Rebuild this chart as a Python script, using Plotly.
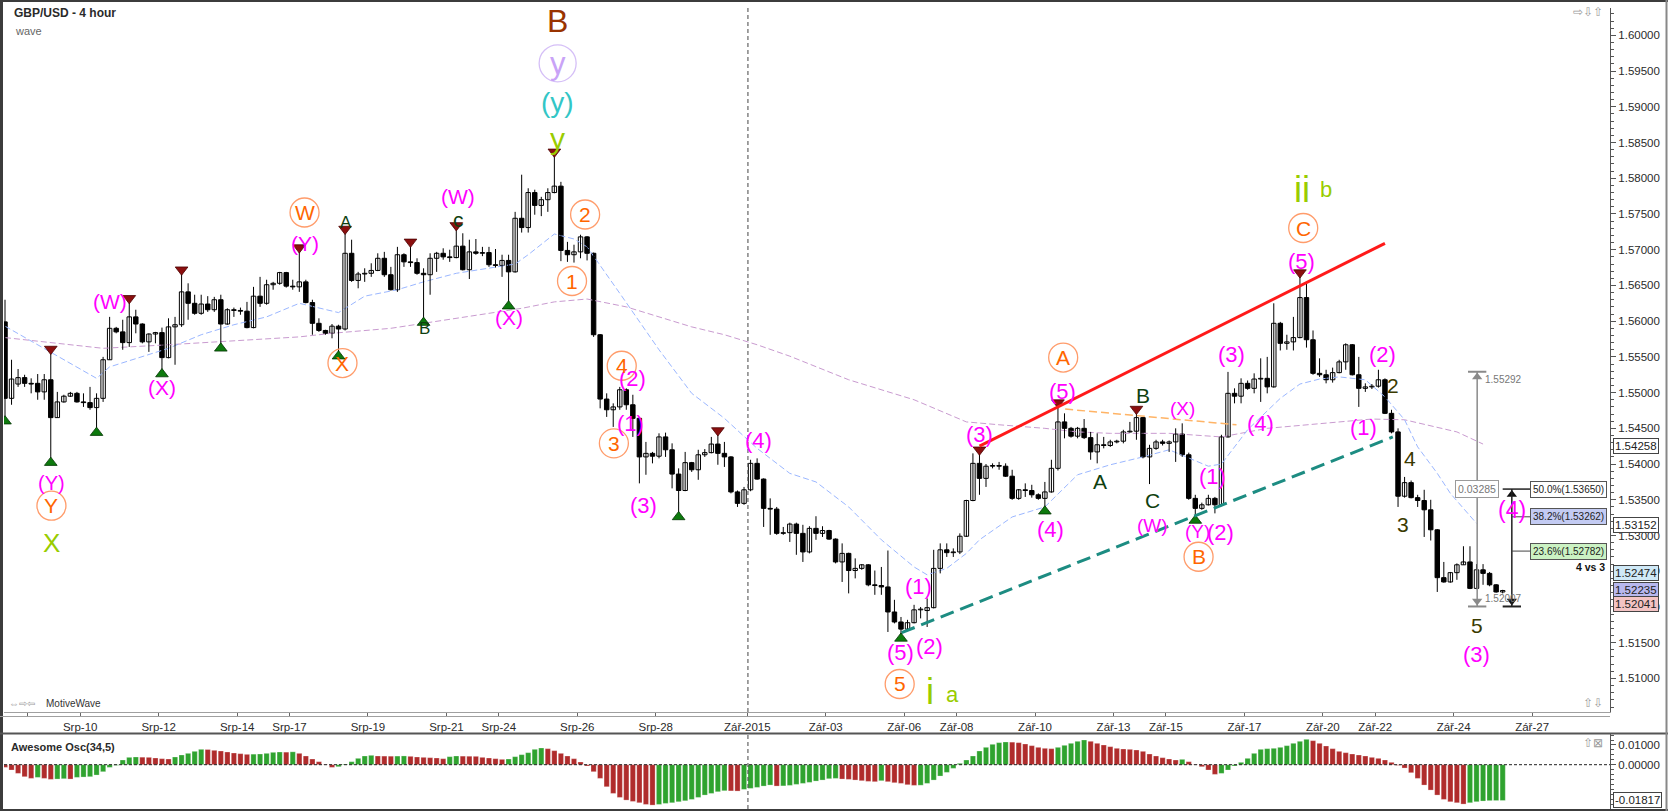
import plotly.graph_objects as go

# ---------------- data ----------------
bar_open = [
1.5599,1.5492,1.5512,1.5521,1.5513,1.5513,1.5501,1.5518,1.5465,1.5487,
1.5495,1.5499,1.5487,1.5486,1.5479,1.5492,1.5546,1.5590,1.5585,1.5570,
1.5606,1.5596,1.5571,1.5582,1.5584,1.5549,1.5592,1.5595,1.5641,1.5625,
1.5611,1.5624,1.5616,1.5630,1.5596,1.5616,1.5615,1.5614,1.5591,1.5635,
1.5625,1.5651,1.5653,1.5668,1.5649,1.5648,1.5655,1.5626,1.5597,1.5587,
1.5583,1.5593,1.5589,1.5695,1.5657,1.5666,1.5667,1.5671,1.5688,1.5665,
1.5644,1.5693,1.5683,1.5682,1.5667,1.5665,1.5688,1.5695,1.5690,1.5689,
1.5705,1.5672,1.5697,1.5695,1.5696,1.5679,1.5678,1.5685,1.5669,1.5744,
1.5731,1.5780,1.5762,1.5770,1.5780,1.5789,1.5699,1.5693,1.5697,1.5718,
1.5695,1.5581,1.5491,1.5476,1.5480,1.5504,1.5483,1.5464,1.5410,1.5415,
1.5411,1.5438,1.5420,1.5386,1.5363,1.5402,1.5392,1.5413,1.5416,1.5428,
1.5415,1.5410,1.5361,1.5345,1.5364,1.5401,1.5379,1.5338,1.5337,1.5303,
1.5304,1.5316,1.5303,1.5277,1.5310,1.5303,1.5307,1.5295,1.5263,1.5275,
1.5251,1.5254,1.5259,1.5231,1.5230,1.5228,1.5193,1.5179,1.5169,1.5178,
1.5196,1.5195,1.5199,1.5254,1.5280,1.5276,1.5277,1.5299,1.5349,1.5401,
1.5380,1.5397,1.5398,1.5397,1.5383,1.5352,1.5364,1.5363,1.5357,1.5352,
1.5361,1.5394,1.5459,1.5450,1.5439,1.5450,1.5437,1.5417,1.5427,1.5426,
1.5431,1.5432,1.5445,1.5446,1.5465,1.5410,1.5422,1.5431,1.5429,1.5431,
1.5442,1.5413,1.5352,1.5338,1.5343,1.5352,1.5343,1.5438,1.5499,1.5495,
1.5513,1.5506,1.5519,1.5520,1.5508,1.5597,1.5569,1.5571,1.5577,1.5633,
1.5574,1.5527,1.5525,1.5518,1.5528,1.5543,1.5567,1.5525,1.5506,1.5508,
1.5509,1.5518,1.5471,1.5445,1.5355,1.5374,1.5353,1.5349,1.5336,1.5308,
1.5241,1.5235,1.5248,1.5259,1.5263,1.5226,1.5252,1.5247,1.5231,1.5221]

bar_close = [
1.5492,1.5519,1.5521,1.5513,1.5512,1.5501,1.5518,1.5465,1.5487,1.5495,
1.5499,1.5487,1.5486,1.5479,1.5492,1.5546,1.5590,1.5585,1.5570,1.5606,
1.5596,1.5571,1.5582,1.5584,1.5549,1.5592,1.5595,1.5641,1.5625,1.5611,
1.5624,1.5616,1.5630,1.5596,1.5616,1.5615,1.5614,1.5591,1.5635,1.5625,
1.5651,1.5653,1.5668,1.5649,1.5648,1.5655,1.5626,1.5597,1.5587,1.5583,
1.5593,1.5589,1.5695,1.5657,1.5666,1.5667,1.5671,1.5688,1.5665,1.5644,
1.5693,1.5683,1.5682,1.5667,1.5665,1.5688,1.5695,1.5690,1.5689,1.5705,
1.5672,1.5697,1.5695,1.5696,1.5679,1.5678,1.5685,1.5669,1.5744,1.5731,
1.5780,1.5762,1.5770,1.5780,1.5789,1.5699,1.5693,1.5697,1.5718,1.5695,
1.5581,1.5491,1.5476,1.5480,1.5504,1.5483,1.5464,1.5410,1.5415,1.5411,
1.5438,1.5420,1.5386,1.5363,1.5402,1.5392,1.5413,1.5416,1.5428,1.5415,
1.5410,1.5361,1.5345,1.5364,1.5401,1.5379,1.5338,1.5337,1.5303,1.5304,
1.5316,1.5303,1.5277,1.5310,1.5303,1.5307,1.5295,1.5263,1.5275,1.5251,
1.5254,1.5259,1.5231,1.5230,1.5228,1.5193,1.5179,1.5169,1.5178,1.5196,
1.5197,1.5199,1.5254,1.5280,1.5276,1.5277,1.5299,1.5349,1.5401,1.5380,
1.5397,1.5398,1.5397,1.5383,1.5352,1.5364,1.5363,1.5357,1.5352,1.5361,
1.5394,1.5459,1.5450,1.5439,1.5450,1.5437,1.5417,1.5427,1.5426,1.5431,
1.5432,1.5445,1.5446,1.5465,1.5410,1.5422,1.5431,1.5429,1.5431,1.5442,
1.5413,1.5352,1.5338,1.5343,1.5352,1.5343,1.5438,1.5499,1.5495,1.5513,
1.5506,1.5519,1.5520,1.5508,1.5597,1.5569,1.5571,1.5577,1.5633,1.5574,
1.5527,1.5525,1.5518,1.5528,1.5543,1.5567,1.5525,1.5506,1.5508,1.5509,
1.5518,1.5471,1.5445,1.5355,1.5374,1.5353,1.5349,1.5336,1.5308,1.5241,
1.5235,1.5248,1.5259,1.5263,1.5226,1.5252,1.5247,1.5231,1.5221,1.5223]

bar_high = [
1.5630,1.5546,1.5533,1.5525,1.5520,1.5526,1.5526,1.5555,1.5501,1.5497,
1.5501,1.5501,1.5499,1.5508,1.5499,1.5550,1.5606,1.5592,1.5602,1.5626,
1.5616,1.5597,1.5583,1.5585,1.5591,1.5604,1.5606,1.5666,1.5653,1.5637,
1.5637,1.5635,1.5634,1.5637,1.5618,1.5619,1.5619,1.5627,1.5648,1.5662,
1.5658,1.5655,1.5669,1.5669,1.5658,1.5697,1.5658,1.5630,1.5604,1.5588,
1.5596,1.5595,1.5723,1.5714,1.5669,1.5674,1.5681,1.5695,1.5697,1.5676,
1.5704,1.5695,1.5705,1.5688,1.5674,1.5695,1.5697,1.5702,1.5700,1.5728,
1.5723,1.5714,1.5715,1.5704,1.5704,1.5701,1.5693,1.5693,1.5753,1.5805,
1.5786,1.5784,1.5774,1.5786,1.5831,1.5795,1.5711,1.5707,1.5721,1.5719,
1.5696,1.5582,1.5499,1.5485,1.5508,1.5506,1.5497,1.5466,1.5431,1.5417,
1.5443,1.5444,1.5429,1.5394,1.5417,1.5403,1.5420,1.5421,1.5438,1.5441,
1.5431,1.5411,1.5363,1.5368,1.5406,1.5408,1.5380,1.5352,1.5340,1.5312,
1.5318,1.5318,1.5315,1.5313,1.5327,1.5313,1.5308,1.5296,1.5289,1.5276,
1.5268,1.5260,1.5260,1.5251,1.5256,1.5279,1.5210,1.5186,1.5182,1.5203,
1.5200,1.5212,1.5280,1.5289,1.5289,1.5282,1.5303,1.5350,1.5415,1.5414,
1.5400,1.5401,1.5403,1.5401,1.5392,1.5365,1.5373,1.5371,1.5359,1.5375,
1.5406,1.5480,1.5471,1.5452,1.5452,1.5463,1.5445,1.5443,1.5438,1.5434,
1.5434,1.5448,1.5459,1.5471,1.5466,1.5427,1.5434,1.5434,1.5433,1.5450,
1.5457,1.5416,1.5357,1.5346,1.5357,1.5354,1.5441,1.5529,1.5506,1.5520,
1.5517,1.5527,1.5548,1.5550,1.5625,1.5599,1.5581,1.5606,1.5662,1.5652,
1.5587,1.5548,1.5532,1.5535,1.5546,1.5569,1.5568,1.5550,1.5513,1.5512,
1.5532,1.5520,1.5476,1.5450,1.5382,1.5377,1.5357,1.5364,1.5350,1.5309,
1.5263,1.5249,1.5261,1.5285,1.5285,1.5260,1.5260,1.5249,1.5232,1.5224]

bar_low = [
1.5466,1.5483,1.5508,1.5508,1.5499,1.5490,1.5490,1.5408,1.5465,1.5486,
1.5494,1.5486,1.5480,1.5476,1.5450,1.5487,1.5546,1.5583,1.5560,1.5564,
1.5583,1.5569,1.5557,1.5569,1.5532,1.5548,1.5539,1.5592,1.5602,1.5609,
1.5609,1.5613,1.5613,1.5568,1.5595,1.5606,1.5609,1.5590,1.5590,1.5620,
1.5623,1.5644,1.5651,1.5647,1.5644,1.5641,1.5625,1.5581,1.5585,1.5581,
1.5576,1.5557,1.5587,1.5655,1.5646,1.5655,1.5662,1.5670,1.5662,1.5643,
1.5641,1.5676,1.5676,1.5665,1.5604,1.5637,1.5669,1.5686,1.5683,1.5688,
1.5671,1.5659,1.5693,1.5691,1.5676,1.5675,1.5662,1.5627,1.5668,1.5724,
1.5724,1.5749,1.5747,1.5753,1.5779,1.5684,1.5683,1.5682,1.5688,1.5685,
1.5578,1.5478,1.5466,1.5452,1.5476,1.5476,1.5438,1.5373,1.5385,1.5401,
1.5408,1.5410,1.5366,1.5332,1.5362,1.5389,1.5378,1.5410,1.5415,1.5399,
1.5396,1.5359,1.5340,1.5343,1.5362,1.5378,1.5312,1.5301,1.5301,1.5301,
1.5291,1.5273,1.5263,1.5275,1.5294,1.5298,1.5294,1.5261,1.5235,1.5219,
1.5240,1.5252,1.5229,1.5217,1.5217,1.5165,1.5177,1.5162,1.5168,1.5177,
1.5184,1.5172,1.5198,1.5247,1.5270,1.5270,1.5274,1.5298,1.5348,1.5357,
1.5368,1.5394,1.5392,1.5382,1.5350,1.5350,1.5354,1.5353,1.5350,1.5340,
1.5360,1.5391,1.5436,1.5437,1.5436,1.5435,1.5406,1.5401,1.5422,1.5424,
1.5429,1.5429,1.5444,1.5434,1.5408,1.5372,1.5420,1.5426,1.5417,1.5403,
1.5410,1.5350,1.5327,1.5336,1.5342,1.5331,1.5341,1.5437,1.5485,1.5485,
1.5504,1.5499,1.5487,1.5499,1.5507,1.5559,1.5560,1.5559,1.5576,1.5563,
1.5525,1.5522,1.5513,1.5514,1.5527,1.5532,1.5524,1.5480,1.5501,1.5505,
1.5507,1.5470,1.5443,1.5340,1.5353,1.5352,1.5340,1.5298,1.5293,1.5221,
1.5234,1.5234,1.5238,1.5259,1.5225,1.5225,1.5231,1.5229,1.5220,1.5219]

ao_values = [
-0.00136,-0.00271,-0.00441,-0.00610,-0.00695,-0.00644,-0.00695,-0.00746,-0.00729,-0.00712,
-0.00729,-0.00644,-0.00627,-0.00610,-0.00525,-0.00356,-0.00136,-0.00034,0.00237,0.00373,
0.00390,0.00381,0.00373,0.00339,0.00305,0.00288,0.00390,0.00492,0.00576,0.00678,
0.00780,0.00771,0.00729,0.00695,0.00644,0.00593,0.00559,0.00525,0.00534,0.00542,
0.00576,0.00627,0.00644,0.00636,0.00653,0.00576,0.00441,0.00288,0.00153,0.00017,
-0.00136,-0.00102,0.00034,0.00153,0.00322,0.00441,0.00475,0.00441,0.00436,0.00431,
0.00437,0.00444,0.00424,0.00390,0.00373,0.00356,0.00339,0.00305,0.00407,0.00441,
0.00434,0.00429,0.00424,0.00373,0.00339,0.00305,0.00271,0.00288,0.00407,0.00509,
0.00610,0.00780,0.00848,0.00814,0.00712,0.00576,0.00441,0.00305,0.00136,-0.00068,
-0.00356,-0.00695,-0.01119,-0.01458,-0.01661,-0.01797,-0.01865,-0.01932,-0.02017,-0.02051,
-0.02017,-0.01966,-0.01932,-0.01881,-0.01831,-0.01763,-0.01661,-0.01542,-0.01458,-0.01373,
-0.01322,-0.01331,-0.01339,-0.01254,-0.01203,-0.01153,-0.01085,-0.01034,-0.01085,-0.01076,
-0.01051,-0.01000,-0.00949,-0.00898,-0.00831,-0.00780,-0.00712,-0.00695,-0.00729,-0.00746,
-0.00780,-0.00814,-0.00848,-0.00864,-0.00814,-0.00864,-0.00915,-0.00949,-0.01017,-0.01051,
-0.01042,-0.00949,-0.00780,-0.00576,-0.00390,-0.00186,0.00068,0.00237,0.00441,0.00695,
0.00881,0.01034,0.01119,0.01153,0.01144,0.01119,0.01051,0.00966,0.00881,0.00831,
0.00814,0.00881,0.00983,0.01085,0.01187,0.01254,0.01187,0.01085,0.01000,0.00915,
0.00831,0.00797,0.00780,0.00746,0.00678,0.00542,0.00441,0.00356,0.00288,0.00237,
0.00271,0.00153,-0.00017,-0.00102,-0.00271,-0.00492,-0.00441,-0.00271,-0.00068,0.00119,
0.00322,0.00576,0.00780,0.00814,0.00831,0.00881,0.00966,0.01085,0.01187,0.01288,
0.01220,0.01085,0.00949,0.00814,0.00678,0.00610,0.00542,0.00492,0.00441,0.00373,
0.00322,0.00237,0.00119,-0.00034,-0.00170,-0.00407,-0.00695,-0.01034,-0.01288,-0.01542,
-0.01763,-0.01881,-0.01932,-0.02000,-0.01932,-0.01880,-0.01845,-0.01825,-0.01820,-0.01817]

date_tick_pos = [3.5, 11.5, 23.5, 35.5, 43.5, 55.5, 67.5, 75.5, 87.5, 99.5, 113.5,
                 125.5, 137.5, 145.5, 157.5, 169.5, 177.5, 189.5, 201.5, 209.5, 221.5, 233.5]
date_tick_text = ["", "Srp-10", "Srp-12", "Srp-14", "Srp-17", "Srp-19", "Srp-21", "Srp-24",
                  "Srp-26", "Srp-28", "Zář-2015", "Zář-03", "Zář-06", "Zář-08", "Zář-10",
                  "Zář-13", "Zář-15", "Zář-17", "Zář-20", "Zář-22", "Zář-24", "Zář-27"]

fast_ma_idx = [0,14,16,25,30,35,40,45,51,55,60,64,69,74,78,80,84,87,89,94,100,105,110,115,120,
               124,129,134,139,141,144,147,149,154,159,164,169,174,178,184,186,190,195,198,201,
               204,208,211,214,216,219,221,225]
fast_ma_val = [1.5593,1.5520,1.5536,1.5562,1.5581,1.5595,1.5606,1.5625,1.5612,1.5635,
               1.5644,1.5655,1.5667,1.5674,1.5680,1.5693,1.5722,1.5715,1.5704,1.5639,
               1.5560,1.5499,1.5464,1.5422,1.5387,1.5375,1.5340,1.5294,1.5256,1.5245,
               1.5254,1.5275,1.5294,1.5326,1.5340,1.5385,1.5399,1.5410,1.5420,1.5397,
               1.5400,1.5448,1.5492,1.5512,1.5519,1.5522,1.5518,1.5494,1.5462,1.5424,
               1.5387,1.5359,1.5317]
slow_ma_idx = [0,15,25,35,45,50,59,64,74,79,84,89,95,100,105,110,115,120,129,139,147,152,159,
               164,169,178,186,193,201,209,214,222,226]
slow_ma_val = [1.5577,1.5562,1.5567,1.5573,1.5578,1.5583,1.5590,1.5597,1.5611,1.5618,1.5627,
               1.5631,1.5620,1.5606,1.5592,1.5581,1.5567,1.5551,1.5518,1.5490,1.5459,1.5455,
               1.5450,1.5445,1.5443,1.5443,1.5438,1.5450,1.5457,1.5463,1.5462,1.5445,1.5428]

swing_high_idx = [7, 19, 27, 45, 52, 62, 69, 84, 109, 149, 161, 173, 198]
swing_low_idx = [0, 7, 14, 24, 33, 51, 64, 77, 103, 137, 159, 182]

upper_line_x = [149, 211]
upper_line_y = [1.5425, 1.5709]
lower_line_x = [137.1, 212.2]
lower_line_y = [1.5164, 1.5438]
b_line_x = [162.1, 188.3]
b_line_y = [1.5477, 1.5455]

measure_high = 1.55292
measure_low = 1.52007
measure_range_text = "0.03285"
fib_levels = [("50.0%(1.53650)", 1.53650, "white"),
              ("38.2%(1.53262)", 1.53262, "#c3cbf3"),
              ("23.6%(1.52782)", 1.52782, "#cbf2c3")]

price_tags = [("1.54258", 1.54258, "white"), ("1.53152", 1.53152, "white"),
              ("1.52474", 1.52474, "#cfe9f7"), ("1.52235", 1.52235, "#b8b8ee"),
              ("1.52041", 1.52041, "#f3c3c3")]
ao_tag = ("-0.01817", -0.01817)

magenta_labels = [
    ("(W)", 16.1, 1.56282, 21), ("(X)", 24.0, 1.55078, 21), ("(Y)", 7.1, 1.53739, 20),
    ("(Y)", 45.8, 1.57094, 21), ("(W)", 69.3, 1.57738, 21), ("(X)", 77.0, 1.56058, 21),
    ("(2)", 96.0, 1.55200, 22), ("(1)", 95.6, 1.54570, 22), ("(3)", 97.6, 1.53417, 22),
    ("(4)", 115.2, 1.54332, 22), ("(1)", 139.7, 1.52293, 22), ("(5)", 136.9, 1.51364, 22),
    ("(2)", 141.3, 1.51444, 22), ("(3)", 149.0, 1.54407, 22), ("(5)", 161.7, 1.55020, 22),
    ("(4)", 159.9, 1.53091, 22), ("(W)", 175.5, 1.53137, 19), ("(X)", 180.0, 1.54780, 19),
    ("(Y)", 182.4, 1.53053, 19), ("(2)", 185.8, 1.53045, 22), ("(1)", 184.7, 1.53823, 22),
    ("(4)", 192.0, 1.54561, 22), ("(3)", 187.6, 1.55540, 22), ("(5)", 198.3, 1.56842, 22),
    ("(2)", 210.6, 1.55540, 22), ("(1)", 207.7, 1.54514, 22), ("(3)", 225.0, 1.51328, 22),
    ("(4)", 230.4, 1.53357, 23)]
orange_circled = [
    ("W", 45.8, 1.57521), ("X", 51.6, 1.55414), ("Y", 7.1, 1.53417), ("2", 88.7, 1.57493),
    ("1", 86.7, 1.56562), ("4", 94.3, 1.55376), ("3", 93.1, 1.54290), ("5", 136.8, 1.50922),
    ("A", 161.8, 1.55491), ("B", 182.5, 1.52703), ("C", 198.5, 1.57304)]
dark_green_labels = [("A", 52.1, 1.57374, 17), ("B", 64.1, 1.55904, 17), ("c", 69.3, 1.57416, 21),
                     ("A", 167.4, 1.53759, 21), ("B", 174.0, 1.54959, 21), ("C", 175.5, 1.53490, 21)]
olive_labels = [("2", 212.2, 1.55106), ("4", 214.8, 1.54071), ("3", 213.8, 1.53161), ("5", 225.0, 1.51747)]
lime_labels = [("X", 7.1, 1.52891, 26), ("y", 84.5, 1.58563, 30), ("i", 141.5, 1.50810, 36),
               ("a", 144.8, 1.50768, 22), ("ii", 198.3, 1.57836, 36), ("b", 202.0, 1.57843, 22)]
top_labels = [("B", 84.5, 1.60204, "#993300", 32), ("(y)", 84.5, 1.59060, "#33c6c6", 28)]
lavender_circled = ("y", 84.5, 1.59609)

# ---------------- layout geometry ----------------
W, H = 1668, 811
ML, MR, MT, MB = 4, 58, 8, 2
PW, PH = W - ML - MR, H - MT - MB
def pyp(py):  # pixel row -> paper y
    return (H - MB - py) / PH
def pxp(px):  # pixel column -> paper x
    return (px - ML) / PW

FONT = "Liberation Sans"
X_RANGE = [-0.153, 245.41]
Y_RANGE = [1.50530, 1.60383]
AO_RANGE = [-0.02249, 0.01558]
MAIN_DOM = [pyp(712), 1.0]
OSC_DOM = [0.0, pyp(734)]

fig = go.Figure()

# moving averages
fig.add_trace(go.Scatter(x=slow_ma_idx, y=slow_ma_val, mode="lines",
                         line=dict(color="#c99bd0", width=1, dash="6px,3px"), hoverinfo="skip"))
fig.add_trace(go.Scatter(x=fast_ma_idx, y=fast_ma_val, mode="lines",
                         line=dict(color="#9bb7ff", width=1, dash="6px,3px"), hoverinfo="skip"))

# candles: wicks
n = len(bar_open)
idx = list(range(n))
wx, wy = [], []
for i in idx:
    wx += [i, i, None]
    wy += [bar_low[i], bar_high[i], None]
fig.add_trace(go.Scatter(x=wx, y=wy, mode="lines", line=dict(color="black", width=1), hoverinfo="skip"))

# candles: bodies
min_body = 0.00007
up = [i for i in idx if bar_close[i] >= bar_open[i]]
dn = [i for i in idx if bar_close[i] < bar_open[i]]
for ids, fill in ((up, "white"), (dn, "black")):
    fig.add_trace(go.Bar(
        x=ids,
        y=[max(abs(bar_close[i] - bar_open[i]), min_body) for i in ids],
        base=[min(bar_open[i], bar_close[i]) for i in ids],
        width=0.68, marker=dict(color=fill, line=dict(color="black", width=1)),
        hoverinfo="skip"))

# swing markers
tri_off = 0.00060
fig.add_trace(go.Scatter(x=swing_high_idx, y=[bar_high[i] + tri_off for i in swing_high_idx],
                         mode="markers", marker=dict(symbol="triangle-down", size=11, color="#8b0f0f",
                                                     line=dict(color="#4a0000", width=0.8)), hoverinfo="skip"))
fig.add_trace(go.Scatter(x=swing_low_idx, y=[bar_low[i] - tri_off for i in swing_low_idx],
                         mode="markers", marker=dict(symbol="triangle-up", size=11, color="#0d7a0d",
                                                     line=dict(color="#003300", width=0.8)), hoverinfo="skip"))

# Awesome oscillator
ao_colors = []
for i, v in enumerate(ao_values):
    if i == 0:
        ao_colors.append("#b02c2c")
    else:
        ao_colors.append("#2fa32f" if v > ao_values[i - 1] else "#b02c2c")
fig.add_trace(go.Bar(x=idx, y=ao_values, width=0.8,
                     marker=dict(color=ao_colors, line=dict(width=0.6, color="rgba(255,255,255,0.45)")),
                     xaxis="x2", yaxis="y2", hoverinfo="skip"))

# circled labels (circles)
fig.add_trace(go.Scatter(x=[c[1] for c in orange_circled], y=[c[2] for c in orange_circled],
                         mode="markers", marker=dict(symbol="circle-open", size=29, color="#ff9c6b",
                                                     line=dict(width=1.3)), hoverinfo="skip"))
fig.add_trace(go.Scatter(x=[lavender_circled[1]], y=[lavender_circled[2]], mode="markers",
                         marker=dict(symbol="circle-open", size=37, color="#d5bff7", line=dict(width=1.3)),
                         hoverinfo="skip"))

shapes = []
# trend lines
shapes.append(dict(type="line", xref="x", yref="y", x0=upper_line_x[0], x1=upper_line_x[1],
                   y0=upper_line_y[0], y1=upper_line_y[1], line=dict(color="#ff1a1a", width=3)))
shapes.append(dict(type="line", xref="x", yref="y", x0=lower_line_x[0], x1=lower_line_x[1],
                   y0=lower_line_y[0], y1=lower_line_y[1], line=dict(color="#1d8c82", width=3, dash="14px,7px")))
shapes.append(dict(type="line", xref="x", yref="y", x0=b_line_x[0], x1=b_line_x[1],
                   y0=b_line_y[0], y1=b_line_y[1], line=dict(color="#ffb466", width=1.5, dash="8px,4px")))
# month separator
sep_x = 113.6
shapes.append(dict(type="line", xref="x", yref="y domain", x0=sep_x, x1=sep_x, y0=0, y1=1,
                   line=dict(color="#444", width=1, dash="4px,3px")))
shapes.append(dict(type="line", xref="x2", yref="y2 domain", x0=sep_x, x1=sep_x, y0=0, y1=1,
                   line=dict(color="#444", width=1, dash="4px,3px")))
# AO zero line
shapes.append(dict(type="line", xref="x2 domain", yref="y2", x0=0, x1=1, y0=0, y1=0,
                   line=dict(color="#222", width=1, dash="3px,2px")))

# measuring tool
gx, bx = 225.1, 230.4
shapes.append(dict(type="line", xref="x", yref="y", x0=gx, x1=gx, y0=measure_low, y1=measure_high,
                   line=dict(color="#8a8a8a", width=1.5)))
for yv in (measure_low, measure_high):
    shapes.append(dict(type="line", xref="x", yref="y", x0=gx - 1.4, x1=gx + 1.4, y0=yv, y1=yv,
                       line=dict(color="#8a8a8a", width=2)))
shapes.append(dict(type="line", xref="x", yref="y", x0=bx, x1=bx, y0=measure_low, y1=fib_levels[0][1],
                   line=dict(color="#222", width=1.5)))
shapes.append(dict(type="line", xref="x", yref="y", x0=bx - 1.4, x1=bx + 1.4, y0=measure_low, y1=measure_low,
                   line=dict(color="#222", width=2)))
shapes.append(dict(type="line", xref="x", yref="y", x0=bx - 1.4, x1=233.2, y0=fib_levels[0][1],
                   y1=fib_levels[0][1], line=dict(color="#222", width=1.5)))
for _, lv, _c in fib_levels[1:]:
    shapes.append(dict(type="line", xref="x", yref="y", x0=bx, x1=233.2, y0=lv, y1=lv,
                       line=dict(color="#444", width=1)))
arrow_off = 0.00075
fig.add_trace(go.Scatter(x=[gx, gx], y=[measure_high - arrow_off, measure_low + arrow_off], mode="markers",
                         marker=dict(symbol=["triangle-up", "triangle-down"], size=9, color="#8a8a8a"),
                         hoverinfo="skip"))
fig.add_trace(go.Scatter(x=[bx, bx], y=[fib_levels[0][1] - arrow_off, measure_low + arrow_off], mode="markers",
                         marker=dict(symbol=["triangle-up", "triangle-down"], size=9, color="#111"),
                         hoverinfo="skip"))

# frame lines
shapes.append(dict(type="line", xref="paper", yref="paper", x0=pxp(0), x1=pxp(W), y0=pyp(1), y1=pyp(1),
                   line=dict(color="#3c3c3c", width=2)))
shapes.append(dict(type="line", xref="paper", yref="paper", x0=pxp(1.5), x1=pxp(1.5), y0=pyp(H), y1=pyp(0),
                   line=dict(color="#3c3c3c", width=3)))
shapes.append(dict(type="line", xref="paper", yref="paper", x0=pxp(0), x1=pxp(1610), y0=pyp(716.5), y1=pyp(716.5),
                   line=dict(color="#a0a0a0", width=1)))
shapes.append(dict(type="line", xref="paper", yref="paper", x0=pxp(0), x1=pxp(W), y0=pyp(733.5), y1=pyp(733.5),
                   line=dict(color="#555", width=2)))
shapes.append(dict(type="line", xref="paper", yref="paper", x0=pxp(0), x1=pxp(W), y0=pyp(810), y1=pyp(810),
                   line=dict(color="#3c3c3c", width=2)))
shapes.append(dict(type="line", xref="paper", yref="paper", x0=pxp(1666.5), x1=pxp(1666.5), y0=pyp(H), y1=pyp(0),
                   line=dict(color="#888", width=2)))

ann = []
def label(text, x, y, color, size, **kw):
    d = dict(x=x, y=y, xref="x", yref="y", text=text, showarrow=False,
             font=dict(family=FONT, size=size, color=color), xanchor="center", yanchor="middle")
    d.update(kw)
    ann.append(d)

for t, x, y, s in magenta_labels:
    label(t, x, y, "#ff00ff", s)
for t, x, y in orange_circled:
    label(t, x, y, "#ff6600", 21)
for t, x, y, s in dark_green_labels:
    label(t, x, y, "#0f3f0f", s)
for t, x, y in olive_labels:
    label(t, x, y, "#3a3a00", 21)
for t, x, y, s in lime_labels:
    label(t, x, y, "#99cc00", s)
for t, x, y, c, s in top_labels:
    label(t, x, y, c, s)
label(lavender_circled[0], lavender_circled[1], lavender_circled[2], "#c9a3f7", 31)

# measuring tool texts
label(measure_range_text, gx, 1.53651, "#777", 10.5, bgcolor="white", bordercolor="#9a9a9a",
      borderwidth=1, borderpad=2)
label("1.55292", 226.0, 1.55186, "#777", 10, xanchor="left")
label("1.52007", 226.0, 1.52121, "#777", 10, xanchor="left")
for t, lv, bg in fib_levels:
    label(t, 233.2, lv, "#222", 10, xanchor="left", bgcolor=bg, bordercolor="#555",
          borderwidth=1, borderpad=2)
label("<b>4 vs 3</b>", 242.4, 1.52559, "#111", 10.5)

# axis tags
for t, v, bg in price_tags:
    ann.append(dict(x=1, y=v, xref="paper", yref="y", text=t, showarrow=False, xanchor="left", xshift=3,
                    yanchor="middle", font=dict(family=FONT, size=11.5, color="#222"), bgcolor=bg,
                    bordercolor="#444", borderwidth=1, borderpad=1))
ann.append(dict(x=1, y=ao_tag[1], xref="paper", yref="y2", text=ao_tag[0], showarrow=False, xanchor="left",
                xshift=3, yanchor="middle", font=dict(family=FONT, size=11.5, color="#222"), bgcolor="white",
                bordercolor="#444", borderwidth=1, borderpad=1))

# static texts
def ptext(text, px, py, size, color, anchor="left", bold=False):
    ann.append(dict(x=pxp(px), y=pyp(py), xref="paper", yref="paper", text=("<b>%s</b>" % text) if bold else text,
                    showarrow=False, xanchor=anchor, yanchor="middle",
                    font=dict(family=FONT, size=size, color=color)))
ptext("GBP/USD - 4 hour", 12, 13, 12, "#2a2a2a", bold=True)
ptext("wave", 13, 31, 11, "#666")
ptext("Awesome Osc(34,5)", 9, 747, 11, "#2a2a2a", bold=True)
ptext("⇔⇨⇦", 7, 703, 10, "#999")
ptext("MotiveWave", 44, 703, 10, "#333")
ptext("⇨⇩⇧", 1605, 12, 12, "#999", anchor="right")
ptext("⇧⇩", 1605, 703, 12, "#999", anchor="right")
ptext("⇧⊠", 1605, 743, 12, "#999", anchor="right")

axis_font = dict(family=FONT, size=11.5, color="#2a2a2a")
fig.update_layout(
    width=W, height=H, margin=dict(l=ML, r=MR, t=MT, b=MB),
    paper_bgcolor="white", plot_bgcolor="white", showlegend=False, barmode="overlay",
    hovermode=False, shapes=shapes, annotations=ann,
    xaxis=dict(domain=[0, 1], anchor="y", range=X_RANGE, tickmode="array", tickvals=date_tick_pos,
               ticktext=date_tick_text, ticks="outside", ticklen=4, tickcolor="#666", tickangle=0,
               showline=True, linecolor="#a0a0a0", linewidth=1, showgrid=False, zeroline=False,
               tickfont=axis_font),
    xaxis2=dict(domain=[0, 1], anchor="y2", matches="x", showticklabels=False, ticks="",
                showline=False, showgrid=False, zeroline=False),
    yaxis=dict(domain=MAIN_DOM, anchor="x", side="right", range=Y_RANGE, tickmode="linear",
               tick0=1.5, dtick=0.005, tickformat=".5f", ticks="outside", ticklen=5, tickcolor="#555",
               showline=True, linecolor="#555", linewidth=1, showgrid=False, zeroline=False,
               tickfont=axis_font,
               minor=dict(ticks="outside", ticklen=3, tickcolor="#555", dtick=0.001, showgrid=False)),
    yaxis2=dict(domain=OSC_DOM, anchor="x2", side="right", range=AO_RANGE, tickmode="array",
                tickvals=[0.0, 0.01], tickformat=".5f", ticks="outside", ticklen=5, tickcolor="#555",
                showline=True, linecolor="#555", linewidth=1, showgrid=False, zeroline=False,
                tickfont=axis_font,
                minor=dict(ticks="outside", ticklen=3, tickcolor="#555", dtick=0.0025, showgrid=False)),
)

fig.write_html("out.html", config={"displayModeBar": False},
               post_script="document.body.style.margin='0px';document.body.style.padding='0px';"
                           "document.documentElement.style.overflow='hidden';")
